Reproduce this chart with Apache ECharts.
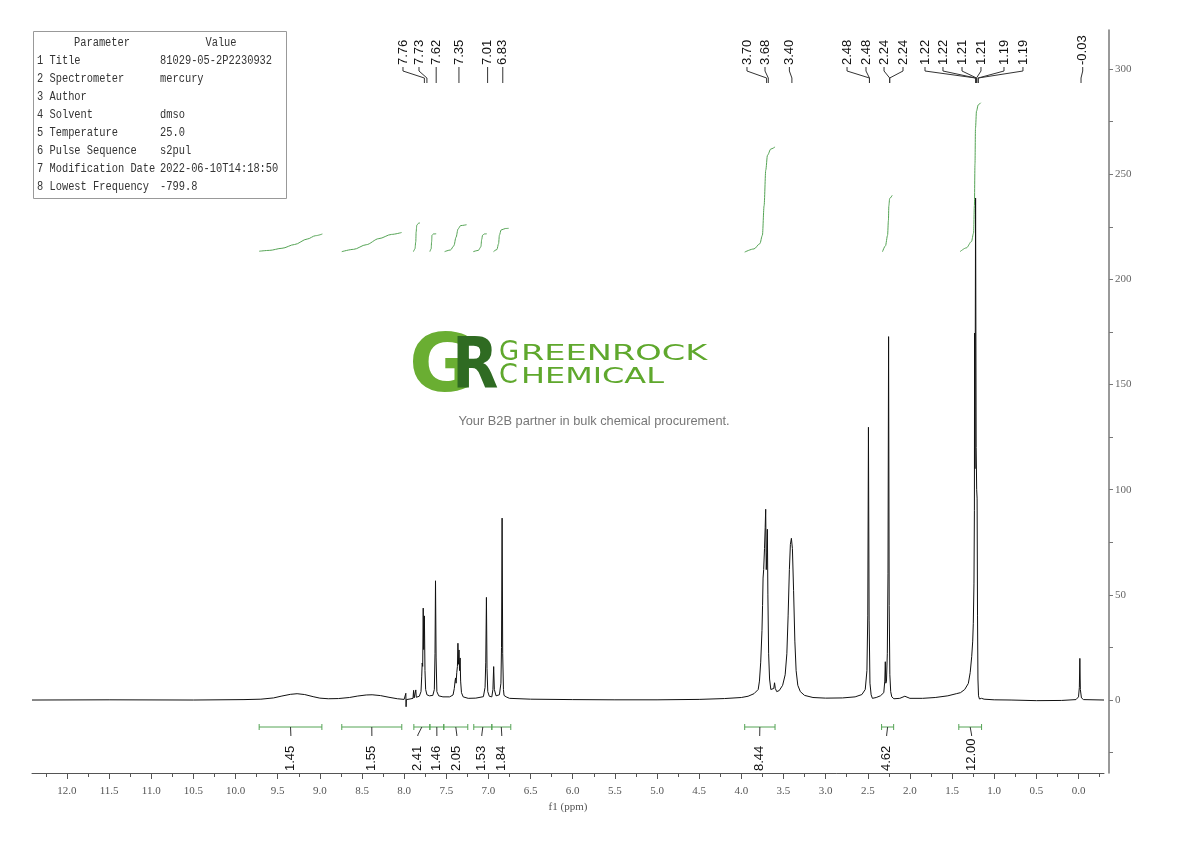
<!DOCTYPE html>
<html><head><meta charset="utf-8">
<script src="https://cdn.jsdelivr.net/npm/echarts@6/dist/echarts.min.js"></script>
<style>html,body{margin:0;padding:0;background:#fff}#c{width:1190px;height:841px}</style>
</head><body><div id="c"></div>
<script>
// ---------- DATA ----------
const spectrum = [
[12.415,0],[11.5,0.1],[10.5,0],[9.9,0.2],[9.7,0.4],[9.55,1.0],[9.45,1.9],[9.35,2.7],[9.27,3.0],[9.18,2.6],[9.08,1.6],[9.0,0.9],[8.9,0.6],[8.78,0.7],[8.65,1.2],[8.55,1.9],[8.45,2.4],[8.38,2.5],[8.28,2.1],[8.18,1.3],[8.08,0.6],[8.0,0.3],
[7.983,0.2],[7.980,3.2],[7.977,-3.2],[7.974,0.2],
[7.93,0.5],[7.895,0.8],[7.888,4.6],[7.882,1.0],[7.868,1.2],[7.862,4.8],[7.856,1.3],[7.82,1.8],[7.80,4],[7.792,11],[7.786,17.6],[7.780,16],[7.774,43.7],[7.768,24],[7.760,40],[7.753,14],[7.745,5],[7.73,2.5],[7.70,2.0],[7.66,2.2],[7.642,5],[7.634,22],[7.628,56.7],[7.621,20],[7.612,4],[7.59,2],[7.54,1.5],[7.46,1.5],[7.42,2.4],[7.405,5.5],[7.396,9],[7.390,10.5],[7.384,8],[7.376,13],[7.368,16],[7.362,27],[7.356,17],[7.349,23.8],[7.343,14],[7.336,20],[7.330,9],[7.32,3.5],[7.30,1.5],[7.24,0.8],[7.15,0.9],[7.06,1.6],[7.04,6],[7.032,18],[7.024,48.8],[7.017,15],[7.008,4],[6.99,1.8],[6.96,1.5],[6.947,5],[6.938,15.9],[6.930,5],[6.91,2],[6.87,2.5],[6.852,8],[6.845,25],[6.838,86.5],[6.831,22],[6.822,5],[6.815,2.2],[6.805,1.8],[6.79,1.5],[6.75,0.8],[6.5,0.4],[6.0,0.2],[5.5,0.1],[5.0,0.1],[4.5,0.3],[4.2,0.7],[4.0,1.2],[3.92,1.8],[3.85,3],[3.80,5],[3.785,9],[3.77,18],[3.755,33],[3.748,45],[3.742,58],[3.735,62],[3.725,72],[3.717,82],[3.711,90.7],[3.704,62],[3.697,70],[3.691,81.2],[3.685,50],[3.676,22],[3.665,10],[3.65,5],[3.63,4.5],[3.615,5.5],[3.606,8.2],[3.597,5.5],[3.58,4],[3.55,4.5],[3.51,7],[3.48,12],[3.46,22],[3.445,40],[3.43,62],[3.418,74],[3.406,76.9],[3.394,72],[3.38,52],[3.365,28],[3.35,14],[3.33,7],[3.30,4],[3.25,2.2],[3.15,1.2],[3.0,0.9],[2.8,1.0],[2.65,1.5],[2.57,2.6],[2.53,5],[2.51,14],[2.50,40],[2.492,129.7],[2.484,38],[2.474,8],[2.46,2.5],[2.445,0.8],[2.43,0.2],[2.40,1.2],[2.35,2],[2.31,3.5],[2.298,9],[2.292,18.2],[2.286,8],[2.278,9],[2.268,22],[2.260,60],[2.253,172.8],[2.246,45],[2.238,12],[2.228,4],[2.215,1.5],[2.19,0.6],[2.12,0.8],[2.06,1.8],[2.05,1.4],[2.0,0.8],[1.85,0.8],[1.7,1.2],[1.55,2],[1.45,3],[1.40,3.5],[1.35,5],[1.307,7.9],[1.285,13],[1.267,20.6],[1.255,28],[1.248,36.5],[1.240,55.6],[1.235,90],[1.233,174.5],[1.228,110],[1.221,238.7],[1.214,120],[1.208,100],[1.203,96],[1.198,40],[1.193,10],[1.186,2],[1.175,0.5],[1.15,0.8],[1.12,0.4],[1.0,0.1],[0.8,0],[0.5,-0.3],[0.2,-0.2],[0.03,0.2],[0.0,1.5],[-0.01,6],[-0.016,19.8],[-0.022,5],[-0.035,1.0],[-0.06,0.2],[-0.3025,0]
];

// peak picking labels: actual ppm, label position ppm, text
const peakPpm      = [7.76, 7.73, 7.62, 7.35, 7.01, 6.83, 3.70, 3.68, 3.40, 2.48, 2.48, 2.24, 2.24, 1.22, 1.22, 1.21, 1.21, 1.19, 1.19, -0.03];
const peakLabelPpm = [8.014,7.824,7.62, 7.35, 7.01, 6.83, 3.933,3.719,3.43, 2.746,2.521,2.307,2.082,1.821,1.608,1.382,1.157,0.884,0.659,-0.05];
const peakLabels   = ['7.76','7.73','7.62','7.35','7.01','6.83','3.70','3.68','3.40','2.48','2.48','2.24','2.24','1.22','1.22','1.21','1.21','1.19','1.19','-0.03'];

// integral regions (ppm), label position, integral value
const integralFrom  = [9.72, 8.74, 7.885, 7.695, 7.53, 7.174, 6.96, 3.96, 2.336, 1.42];
const integralTo    = [8.976,8.028,7.695, 7.53, 7.245,6.96, 6.735,3.60, 2.193, 1.15];
const integralLabelPpm = [9.344,8.383,7.838,7.612,7.375,7.079,6.842,3.782,2.276,1.268];
const integralValues = ['1.45','1.55','2.41','1.46','2.05','1.53','1.84','8.44','4.62','12.00'];

// integral curves drawn above the spectrum (ppm, level)
const integralCurves = [
  [[9.72,213.4],[9.6,213.8],[9.45,214.8],[9.3,216.6],[9.15,219.2],[9.05,220.8],[8.97,221.6]],
  [[8.74,213.2],[8.6,214.3],[8.45,216.5],[8.3,219.4],[8.15,221.4],[8.03,222.3]],
  [[7.89,213.2],[7.872,214.5],[7.862,218],[7.858,222.5],[7.85,225.8],[7.83,226.7],[7.812,226.9]],
  [[7.695,213.2],[7.68,214.5],[7.674,218],[7.67,221],[7.655,221.6],[7.62,221.7]],
  [[7.52,213.2],[7.45,214],[7.41,216],[7.385,220],[7.36,224],[7.33,225.6],[7.26,226]],
  [[7.18,213.2],[7.12,213.8],[7.09,215.5],[7.08,219],[7.07,221],[7.05,221.6],[7.02,221.7]],
  [[6.94,213.2],[6.9,214.2],[6.88,217],[6.87,221],[6.85,223.5],[6.8,224.2],[6.76,224.3]],
  [[3.96,213],[3.85,214.5],[3.78,217],[3.75,221],[3.73,235],[3.71,252],[3.69,259],[3.65,262],[3.60,263]],
  [[2.325,213.2],[2.29,216],[2.265,221],[2.255,228],[2.25,235],[2.24,238.5],[2.21,240]],
  [[1.405,213.2],[1.33,215],[1.27,218],[1.245,222],[1.235,235],[1.228,255],[1.222,272],[1.21,280],[1.19,283],[1.16,284]]
];

// axis ticks
const xMajorTicks = [12,11.5,11,10.5,10,9.5,9,8.5,8,7.5,7,6.5,6,5.5,5,4.5,4,3.5,3,2.5,2,1.5,1,0.5,0];
const xMinorTicks = [12.25,11.75,11.25,10.75,10.25,9.75,9.25,8.75,8.25,7.75,7.25,6.75,6.25,5.75,5.25,4.75,4.25,3.75,3.25,2.75,2.25,1.75,1.25,0.75,0.25,-0.25];
const yLabelTicks = [0,50,100,150,200,250,300];
const yAllTicks = [-25,0,25,50,75,100,125,150,175,200,225,250,275,300];

// parameter table
const paramNames  = ['1 Title','2 Spectrometer','3 Author','4 Solvent','5 Temperature','6 Pulse Sequence','7 Modification Date','8 Lowest Frequency'];
const paramValues = ['81029-05-2P2230932','mercury','','dmso','25.0','s2pul','2022-06-10T14:18:50','-799.8'];

// ---------- LAYOUT CONSTANTS ----------
const GREEN = '#55a455';
const LBL_FONT = '13px "Liberation Sans", Arial, sans-serif';
const SERIF = '"Liberation Serif", "DejaVu Serif", serif';
const TBL_FONT = '12.5px "Liberation Mono", monospace';

const chart = echarts.init(document.getElementById('c'), null, {renderer:'canvas'});

function renderPeakLabel(params, api) {
  const i = params.dataIndex;
  const px = api.coord([api.value(0), 0])[0];
  const lx = api.coord([api.value(1), 0])[0];
  return {type:'group', children:[
    {type:'text', x: lx, y: 65, rotation: Math.PI/2,
     style:{text: peakLabels[i], fill:'#111', font: LBL_FONT, align:'left', verticalAlign:'middle'}},
    {type:'polyline', shape:{points:[[lx,67],[lx,71],[px,78],[px,83]]},
     style:{stroke:'#333', lineWidth:1, fill:null}}
  ]};
}

function renderIntegralBar(params, api) {
  const i = params.dataIndex;
  const x1 = api.coord([api.value(0), 0])[0];
  const x2 = api.coord([api.value(1), 0])[0];
  const lx = api.coord([api.value(2), 0])[0];
  const cx = (x1 + x2) / 2;
  const y = 727;
  return {type:'group', children:[
    {type:'line', shape:{x1:x1, y1:y, x2:x2, y2:y}, style:{stroke:GREEN, lineWidth:1}},
    {type:'line', shape:{x1:x1, y1:y-3, x2:x1, y2:y+3}, style:{stroke:GREEN, lineWidth:1}},
    {type:'line', shape:{x1:x2, y1:y-3, x2:x2, y2:y+3}, style:{stroke:GREEN, lineWidth:1}},
    {type:'polyline', shape:{points:[[cx,y],[lx,y+8],[lx,y+9]]}, style:{stroke:'#333', lineWidth:1, fill:null}},
    {type:'text', x: lx, y: 771, rotation: Math.PI/2,
     style:{text: integralValues[i], fill:'#111', font: LBL_FONT, align:'left', verticalAlign:'middle'}}
  ]};
}

const series = [
  {type:'line', data: spectrum, showSymbol:false, symbol:'none', xAxisIndex:0,
   lineStyle:{color:'#111', width:1}, silent:true, z:5}
];
integralCurves.forEach(c => series.push({
  type:'line', data:c, showSymbol:false, symbol:'none', smooth:0.3, smoothMonotone:'x',
  lineStyle:{color:GREEN, width:1}, silent:true, z:4
}));
series.push({type:'custom', renderItem: renderPeakLabel, silent:true, z:6,
  data: peakPpm.map((p,i)=>[p, peakLabelPpm[i], 0]), encode:{x:[0,1], y:2}});
series.push({type:'custom', renderItem: renderIntegralBar, silent:true, z:6,
  data: integralFrom.map((f,i)=>[f, integralTo[i], integralLabelPpm[i], 0]), encode:{x:[0,1,2], y:3}});

// table graphic
const tbl = [
  {type:'rect', shape:{x:33.5, y:31.5, width:253, height:167}, style:{fill:'#fff', stroke:'#999', lineWidth:1}},
  {type:'text', x:102, y:43, scaleX:0.83, style:{text:'Parameter', font:TBL_FONT, fill:'#333', align:'center', verticalAlign:'middle'}},
  {type:'text', x:221, y:43, scaleX:0.83, style:{text:'Value', font:TBL_FONT, fill:'#333', align:'center', verticalAlign:'middle'}}
];
paramNames.forEach((n,i)=>{
  tbl.push({type:'text', x:37, y:61+i*18, scaleX:0.83, style:{text:n, font:TBL_FONT, fill:'#333', align:'left', verticalAlign:'middle'}});
  tbl.push({type:'text', x:160, y:61+i*18, scaleX:0.83, style:{text:paramValues[i], font:TBL_FONT, fill:'#333', align:'left', verticalAlign:'middle'}});
});
// watermark logo
const logo = [
  {type:'text', x:409, y:370, style:{text:'G', font:'bold 80px "DejaVu Sans"', fill:'#6aae32', align:'left', verticalAlign:'middle'}},
  {type:'text', x:452, y:370, scaleX:0.85, style:{text:'R', font:'bold 71px "DejaVu Sans"', fill:'#2f6b22', align:'left', verticalAlign:'middle'}},
  {type:'text', x:499, y:353, style:{text:'G', font:'26px "DejaVu Sans"', fill:'#5fa82d', align:'left', verticalAlign:'middle'}},
  {type:'text', x:521, y:355, scaleX:1.6, style:{text:'REENROCK', font:'21px "DejaVu Sans"', fill:'#5fa82d', align:'left', verticalAlign:'middle'}},
  {type:'text', x:499, y:376, style:{text:'C', font:'27px "DejaVu Sans"', fill:'#5fa82d', align:'left', verticalAlign:'middle'}},
  {type:'text', x:521, y:377.5, scaleX:1.45, style:{text:'HEMICAL', font:'22px "DejaVu Sans"', fill:'#5fa82d', align:'left', verticalAlign:'middle'}},
  {type:'text', x:594, y:421, style:{text:'Your B2B partner in bulk chemical procurement.', font:'12.8px "Liberation Sans", Arial', fill:'#777', align:'center', verticalAlign:'middle'}}
];

chart.setOption({
  animation:false,
  backgroundColor:'#fff',
  grid:{left:32, right:86, top:30, bottom:68, containLabel:false},
  xAxis:[{
    type:'value', inverse:true, min:-0.3025, max:12.415,
    name:'f1 (ppm)', nameLocation:'middle', nameGap:29,
    nameTextStyle:{fontFamily:SERIF, fontSize:11, color:'#555'},
    axisLine:{show:true, onZero:false, lineStyle:{color:'#555', width:1}},
    axisTick:{show:true, inside:false, length:6, customValues:xMajorTicks, lineStyle:{color:'#555'}},
    axisLabel:{show:true, customValues:xMajorTicks, margin:13, fontFamily:SERIF, fontSize:11, color:'#555',
      formatter:v=>Number(v).toFixed(1)},
    splitLine:{show:false}
  },{
    type:'value', inverse:true, min:-0.3025, max:12.415, position:'bottom',
    axisLine:{show:false, onZero:false},
    axisTick:{show:true, inside:false, length:4, customValues:xMinorTicks, lineStyle:{color:'#555'}},
    axisLabel:{show:false}, splitLine:{show:false}
  }],
  yAxis:{
    type:'value', position:'right', offset:5, min:-34.7, max:318.6,
    axisLine:{show:true, onZero:false, lineStyle:{color:'#777', width:1.5}},
    axisTick:{show:true, inside:false, length:4, customValues:yAllTicks, lineStyle:{color:'#777'}},
    axisLabel:{show:true, customValues:yLabelTicks, margin:6, fontFamily:SERIF, fontSize:11, color:'#666'},
    splitLine:{show:false}
  },
  graphic: tbl.concat(logo),
  series: series
});
</script>
</body></html>
